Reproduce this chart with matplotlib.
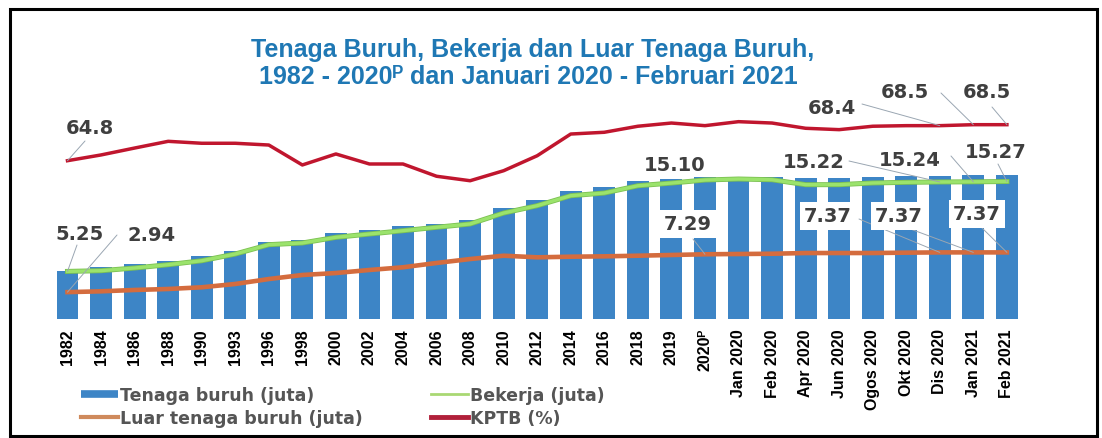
import matplotlib
matplotlib.use('Agg')
import matplotlib.pyplot as plt
from matplotlib.patches import ConnectionPatch, Rectangle
from matplotlib.lines import Line2D
from matplotlib.font_manager import FontProperties
import matplotlib.patheffects as pe

# ---------------- data ----------------
categories = ['1982', '1984', '1986', '1988', '1990', '1993', '1996', '1998', '2000',
              '2002', '2004', '2006', '2008', '2010', '2012', '2014', '2016', '2018',
              '2019', '2020ᴾ', 'Jan 2020', 'Feb 2020', 'Apr 2020',
              'Jun 2020', 'Ogos 2020', 'Okt 2020', 'Dis 2020', 'Jan 2021', 'Feb 2021']
tenaga_buruh = [5.33, 5.77, 6.08, 6.44, 6.93, 7.56, 8.56, 8.78, 9.50, 9.87, 10.28, 10.57,
                11.01, 12.29, 13.21, 14.25, 14.63, 15.30, 15.55, 15.74, 15.81, 15.81,
                15.66, 15.66, 15.81, 15.92, 15.92, 16.00, 16.03]
bekerja = [5.25, 5.33, 5.63, 6.00, 6.44, 7.19, 8.23, 8.42, 9.05, 9.42, 9.79, 10.17,
           10.54, 11.76, 12.58, 13.69, 13.99, 14.80, 15.10, 15.44, 15.55, 15.47,
           14.92, 14.92, 15.11, 15.18, 15.22, 15.24, 15.27]
luar_tenaga_buruh = [2.94, 3.03, 3.18, 3.29, 3.48, 3.85, 4.40, 4.85, 5.07, 5.41, 5.71,
                     6.19, 6.63, 7.00, 6.82, 6.89, 6.93, 7.00, 7.08, 7.16, 7.19, 7.22,
                     7.30, 7.30, 7.30, 7.34, 7.37, 7.37, 7.37]
kptb = [64.8, 65.39, 66.1, 66.79, 66.59, 66.59, 66.41, 64.36, 65.49, 64.46, 64.46,
        63.2, 62.74, 63.77, 65.31, 67.54, 67.72, 68.34, 68.67, 68.4, 68.81, 68.67,
        68.13, 67.99, 68.34, 68.4, 68.4, 68.5, 68.5]

title_lines = ['Tenaga Buruh, Bekerja dan Luar Tenaga Buruh,',
               '1982 - 2020ᴾ dan Januari 2020 - Februari 2021']
legend_labels = ['Tenaga buruh (juta)', 'Luar tenaga buruh (juta)',
                 'Bekerja (juta)', 'KPTB (%)']

# ---------------- style ----------------
BAR = '#3d85c6'
GREEN = '#9be36c'
GREEN_EDGE = '#7cc152'
ORANGE = '#d46c3e'
RED = '#c0162e'
LABEL = '#3f3f3f'

W, H = 1102, 439
fig = plt.figure(figsize=(W / 100, H / 100), dpi=100)
fig.patch.set_facecolor('white')


def fx(px):
    return px / W


def fy(py):
    return (H - py) / H


ax_left, ax_right, ax_top, ax_bottom = 40, 1040, 100, 319.5
ax = fig.add_axes([fx(ax_left), fy(ax_bottom), (ax_right - ax_left) / W,
                   (ax_bottom - ax_top) / H])
x0, dx = 67.5, 33.55
ax.set_xlim((ax_left - x0) / dx, (ax_right - x0) / dx)
ax.set_ylim(0, (ax_bottom - ax_top) / 8.97)

xs = list(range(len(categories)))
ax.bar(xs, tenaga_buruh, width=0.65, color=BAR, zorder=2)
ax.plot(xs, bekerja, color=GREEN, lw=2.4, zorder=4,
        path_effects=[pe.Stroke(linewidth=3.6, foreground=GREEN_EDGE), pe.Normal()])
ax.plot(xs, luar_tenaga_buruh, color=ORANGE, lw=3.3, zorder=4)

ax2 = ax.twinx()
ax2.set_ylim(48.58, 71.14)
ax2.plot(xs, kptb, color=RED, lw=2.5, zorder=4)

for a in (ax, ax2):
    for s in a.spines.values():
        s.set_visible(False)
    a.set_yticks([])
    a.patch.set_visible(False)

ax.set_xticks(xs)
ax.set_xticklabels(categories, rotation=90, fontsize=11.5,
                   family=['Liberation Sans', 'DejaVu Sans'], weight='bold',
                   color='black')
ax.tick_params(axis='x', length=0, pad=7)
ax2.tick_params(axis='x', length=0)

# ---------------- title ----------------
tfont = dict(family=['Liberation Sans', 'DejaVu Sans'], weight='bold', size=18,
             color='#1f78b4', ha='center', va='center')
fig.text(fx(533), fy(50), title_lines[0], **tfont)
fig.text(fx(528), fy(77), title_lines[1], **tfont)

# ---------------- data labels ----------------
lbl_font = dict(family='DejaVu Sans', weight='bold', size=14, color=LABEL,
                ha='center', va='center', zorder=5)
# (text, text px pos, boxed, leader start px, series, index, axis)
annotations = [
    ('64.8', (90, 128), False, (85, 142), kptb, 0, ax2),
    ('68.4', (832, 108), False, (862, 105), kptb, 26, ax2),
    ('68.5', (905, 93), False, (941, 94), kptb, 27, ax2),
    ('68.5', (987, 93), False, (992, 108), kptb, 28, ax2),
    ('5.25', (80, 235), False, (77, 246), bekerja, 0, ax),
    ('2.94', (152, 236), False, (117, 236), luar_tenaga_buruh, 0, ax),
    ('15.10', (675, 166), False, None, bekerja, 18, ax),
    ('15.22', (814, 163), False, (849, 162), bekerja, 26, ax),
    ('15.24', (910, 161), False, (951, 157), bekerja, 27, ax),
    ('15.27', (996, 153), False, (998, 165), bekerja, 28, ax),
    ('7.29', (688, 225), True, (693, 240), luar_tenaga_buruh, 19, ax),
    ('7.37', (828, 217), True, (859, 220), luar_tenaga_buruh, 26, ax),
    ('7.37', (899, 217), True, (905, 228), luar_tenaga_buruh, 27, ax),
    ('7.37', (977, 215), True, (980, 227), luar_tenaga_buruh, 28, ax),
]
for txt, (tx, ty), boxed, start, series, idx, a in annotations:
    kw = dict(lbl_font)
    if boxed:
        kw['bbox'] = dict(facecolor='white', edgecolor='none',
                          boxstyle='square,pad=0.22')
    fig.text(fx(tx), fy(ty), txt, **kw)
    if start is not None:
        con = ConnectionPatch(xyA=(start[0], H - start[1]), coordsA='figure pixels',
                              xyB=(xs[idx], series[idx]), coordsB=a.transData,
                              color='#9aa6b2', lw=0.7, zorder=1.5)
        fig.add_artist(con)

# ---------------- legend ----------------
handles = [Line2D([], [], color=BAR, lw=5.5, solid_capstyle='butt'),
           Line2D([], [], color='#cf8a5c', lw=3),
           Line2D([], [], color='#a9d873', lw=2),
           Line2D([], [], color='#b1203a', lw=3.5)]
fig.legend(handles, legend_labels, ncol=2, loc='upper left',
           bbox_to_anchor=(fx(81), fy(387)), frameon=False,
           prop=FontProperties(family='DejaVu Sans', weight='bold', size=12.5),
           labelcolor='#555555', handlelength=2.15, handletextpad=0.12,
           columnspacing=3.9, labelspacing=0.28, borderpad=0, borderaxespad=0)

# ---------------- frame ----------------
fig.add_artist(Rectangle((fx(10), fy(437)), fx(1097) - fx(10), fy(10) - fy(437),
                         transform=fig.transFigure, fill=False, edgecolor='black',
                         lw=2.2, zorder=10))

fig.savefig('out.png', dpi=100)
